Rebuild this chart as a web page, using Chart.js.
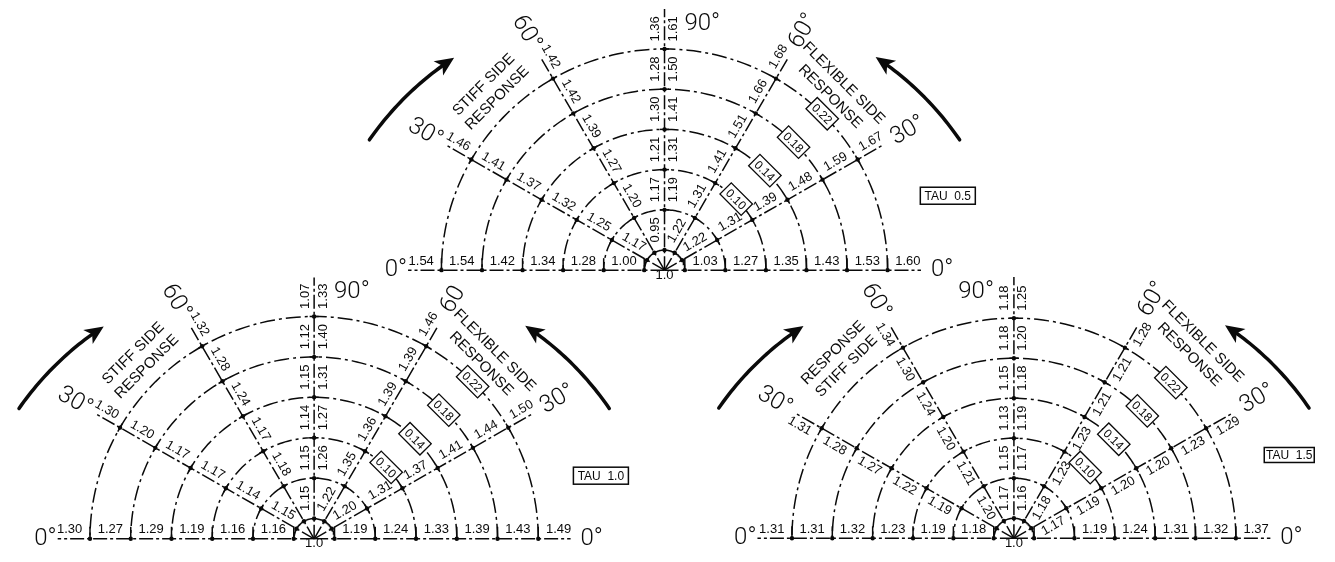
<!DOCTYPE html>
<html><head><meta charset="utf-8">
<script src="https://cdn.jsdelivr.net/npm/chart.js@4.4.1/dist/chart.umd.min.js"></script>
<style>html,body{margin:0;padding:0;background:#fff}#wrap{width:1335px;height:562px;position:relative}</style>
</head><body><div id="wrap"><canvas id="c"></canvas></div>
<script>
// ---------- DATA (values read from the centre outward, positions 1..6) ----------
const directions = ['STIFF 0°','STIFF 30°','STIFF 60°','STIFF 90°','FLEX 90°','FLEX 60°','FLEX 30°','FLEX 0°'];
const dirAngles = [180,150,120,90,90,60,30,0];
const tauLabels = ['TAU 0.5','TAU 1.0','TAU 1.5'];
const ringLabels = [null,null,'0.10','0.14','0.18','0.22'];

const tau05 = [
  [1.00,1.28,1.34,1.42,1.54,1.54],
  [1.17,1.25,1.32,1.37,1.41,1.46],
  [null,1.20,1.27,1.39,1.42,1.42],
  [0.95,1.17,1.21,1.30,1.28,1.36],
  [null,1.19,1.31,1.41,1.50,1.61],
  [1.22,1.31,1.41,1.51,1.66,1.68],
  [1.22,1.31,1.39,1.48,1.59,1.67],
  [1.03,1.27,1.35,1.43,1.53,1.60]
];
const tau10 = [
  [1.16,1.16,1.19,1.29,1.27,1.30],
  [1.15,1.14,1.17,1.17,1.20,1.30],
  [null,1.18,1.17,1.24,1.28,1.32],
  [1.15,1.15,1.14,1.15,1.12,1.07],
  [null,1.26,1.27,1.31,1.40,1.33],
  [1.22,1.35,1.36,1.39,1.39,1.46],
  [1.20,1.31,1.37,1.41,1.44,1.50],
  [1.19,1.24,1.33,1.39,1.43,1.49]
];
const tau15 = [
  [1.18,1.19,1.23,1.32,1.31,1.31],
  [null,1.19,1.22,1.27,1.28,1.31],
  [1.20,1.21,1.20,1.24,1.30,1.34],
  [1.17,1.15,1.13,1.15,1.18,1.18],
  [1.16,1.17,1.19,1.18,1.20,1.25],
  [1.18,1.23,1.23,1.21,1.21,1.28],
  [1.17,1.19,1.20,1.20,1.23,1.29],
  [null,1.19,1.24,1.31,1.32,1.37]
];

// ---------- LAYOUT ----------
const DEG = Math.PI/180;
const INK = '#0a0a0a';
const diagrams = [
  {values:tau05, tau:tauLabels[0], cx:664.5, cy:270, step:40.8, side:-1, stiffTitle:['STIFF SIDE','RESPONSE'], ninety:1, flex60:'60°', box:[949.5,194.5,55,17], flexTitleR:252},
  {values:tau10, tau:tauLabels[1], cx:312, cy:542.5, step:41.0, side:-1, stiffTitle:['STIFF SIDE','RESPONSE'], ninety:1, flex60:'60', box:[600.5,478.5,55,17], flexTitleR:254},
  {values:tau15, tau:tauLabels[2], cx:1016, cy:542, step:40.6, side:1, stiffTitle:['RESPONSE','STIFF SIDE'], ninety:-1, flex60:'60°', box:[1293,457.5,50,15], flexTitleR:266}
];
const radialLen = {0:258,30:254,60:250,90:265,120:250,150:254,180:258};

const datasets = [];
diagrams.forEach(d => {
  for (let k=1;k<=6;k++){
    const r=(k-0.5)*d.step, pts=[];
    for (let a=0;a<=180.001;a+=1.5) pts.push({x:d.cx+r*Math.cos(a*DEG), y:d.cy-r*Math.sin(a*DEG)});
    datasets.push({type:'line', data:pts, borderColor:INK, borderWidth:1.5, borderDash:k===1?[]:[15,4,3,4], pointRadius:0, fill:false, tension:0, clip:false});
  }
  [0,30,60,90,120,150,180].forEach(a=>{
    const L=radialLen[a];
    datasets.push({type:'line', data:[{x:d.cx,y:d.cy},{x:d.cx+L*Math.cos(a*DEG),y:d.cy-L*Math.sin(a*DEG)}],
      borderColor:INK, borderWidth:1.5, borderDash:[14,3,3,3], pointRadius:0, fill:false, clip:false});
  });
  const dots=[];
  for (let k=1;k<=6;k++){ const r=(k-0.5)*d.step;
    [0,30,60,90,120,150,180].forEach(a=>dots.push({x:d.cx+r*Math.cos(a*DEG), y:d.cy-r*Math.sin(a*DEG)})); }
  datasets.push({type:'scatter', data:dots, pointRadius:2.2, pointBackgroundColor:INK, pointBorderWidth:0, clip:false});
});

const VFONT = '13px "Liberation Sans", Arial, sans-serif';
function rtext(ctx,s,x,y,rot,side,font,gap){
  ctx.save(); ctx.translate(x,y); ctx.rotate(rot*DEG);
  ctx.font=font; ctx.fillStyle=INK; ctx.textAlign='center';
  ctx.textBaseline = side<0?'bottom':(side>0?'top':'middle');
  ctx.fillText(s,0,side*gap); ctx.restore();
}
function drawTwo(ctx,x,y,rot,lines,font){
  ctx.save(); ctx.translate(x,y); ctx.rotate(rot*DEG); ctx.font=font; ctx.fillStyle=INK;
  ctx.textAlign='center'; ctx.textBaseline='middle';
  ctx.fillText(lines[0],0,-9.5); ctx.fillText(lines[1],0,9.5); ctx.restore();
}
function arrow(ctx,d,polar,r0,a0,r1,a1){
  const n=30, pts=[];
  for(let i=0;i<=n;i++){const t=i/n; pts.push(polar(d,r0+(r1-r0)*t,a0+(a1-a0)*t));}
  const [hx,hy]=pts[n], [px,py]=pts[n-3];
  const L=Math.hypot(hx-px,hy-py), ux=(hx-px)/L, uy=(hy-py)/L;
  ctx.save(); ctx.setLineDash([]); ctx.lineWidth=3.5; ctx.lineCap='round'; ctx.fillStyle=INK; ctx.strokeStyle=INK;
  ctx.beginPath(); ctx.moveTo(pts[0][0],pts[0][1]);
  for(let i=1;i<n-3;i++) ctx.lineTo(pts[i][0],pts[i][1]);
  ctx.lineTo(hx-ux*12,hy-uy*12); ctx.stroke();
  ctx.beginPath(); ctx.moveTo(hx,hy);
  ctx.lineTo(hx-ux*19-uy*8.5, hy-uy*19+ux*8.5);
  ctx.lineTo(hx-ux*14, hy-uy*14);
  ctx.lineTo(hx-ux*19+uy*8.5, hy-uy*19-ux*8.5);
  ctx.closePath(); ctx.fill(); ctx.restore();
}

const annot = {
  id:'annot',
  afterDatasetsDraw(chart){
    const ctx=chart.ctx, xs=chart.scales.x, ys=chart.scales.y;
    const P=(x,y)=>[xs.getPixelForValue(x), ys.getPixelForValue(y)];
    const polar=(d,r,a)=>P(d.cx+r*Math.cos(a*DEG), d.cy-r*Math.sin(a*DEG));
    ctx.save();
    ctx.strokeStyle=INK; ctx.fillStyle=INK;
    diagrams.forEach(d=>{
      // ticks at ring crossings
      ctx.lineWidth=1.5; ctx.setLineDash([]);
      for (let k=1;k<=6;k++){
        const r=(k-0.5)*d.step;
        [0,180].forEach(a=>{const [x,y]=polar(d,r,a); ctx.beginPath(); ctx.moveTo(x,y); ctx.lineTo(x,y-12); ctx.stroke();});
        if (k===1) continue;
        [30,60,90,120,150].forEach(a=>{
          const [x,y]=polar(d,r,a); const tx=Math.sin(a*DEG)*4.5, ty=Math.cos(a*DEG)*4.5;
          ctx.beginPath(); ctx.moveTo(x-tx,y-ty); ctx.lineTo(x+tx,y+ty); ctx.stroke();
        });
      }
      // value labels
      d.values.forEach((row,j)=>{
        const a=dirAngles[j]; let rot, side;
        if (j===0||j===7){rot=0; side=-1;}
        else if (j===3){rot=-90; side=-1;}
        else if (j===4){rot=-90; side=1;}
        else if (j<3){rot=180-a; side=d.side;}
        else {rot=-a; side=d.side;}
        row.forEach((v,i)=>{
          if (v==null) return;
          const [px,py]=polar(d,(i+1)*d.step,a);
          rtext(ctx, v.toFixed(2), px, py, rot, side, VFONT, 2.5);
        });
      });
      // centre label
      const [ox,oy]=P(d.cx,d.cy);
      ctx.fillStyle='#fff'; ctx.fillRect(ox-8,oy+1,16,9); ctx.fillStyle=INK;
      rtext(ctx,'1.0',ox,oy+5,0,0,VFONT,0);
      // ring (period) boxes
      ringLabels.forEach((t,k)=>{
        if(!t) return;
        const r=(k+0.5)*d.step; const [x,y]=polar(d,r,45);
        ctx.save(); ctx.translate(x,y); ctx.rotate(45*DEG);
        ctx.fillStyle='#fff'; ctx.fillRect(-15,-8,30,16);
        ctx.lineWidth=1.3; ctx.strokeStyle=INK; ctx.strokeRect(-15,-8,30,16);
        ctx.fillStyle=INK; ctx.font='12px "Liberation Sans", Arial, sans-serif';
        ctx.textAlign='center'; ctx.textBaseline='middle'; ctx.fillText(t,0,1);
        ctx.restore();
      });
      // angle labels
      const AF='300 24px Roboto, "DejaVu Sans", sans-serif';
      ctx.font=AF; ctx.textBaseline='middle'; ctx.fillStyle=INK;
      let [x,y]=P(d.cx-259,d.cy); ctx.textAlign='right'; ctx.fillText('0°',x,y);
      [x,y]=P(d.cx+268,d.cy); ctx.textAlign='left'; ctx.fillText('0°',x,y);
      [x,y]=polar(d,278,150); rtext(ctx,'30°',x,y,30,0,AF,0);
      [x,y]=polar(d,278,120); rtext(ctx,'60°',x,y,60,0,AF,0);
      [x,y]=polar(d,280,60); rtext(ctx,d.flex60,x,y,-60,0,AF,0);
      [x,y]=polar(d,283,30); rtext(ctx,'30°',x,y,-30,0,AF,0);
      [x,y]=P(d.cx+d.ninety*38,d.cy-250); rtext(ctx,'90°',x,y,0,0,AF,0);
      // titles
      const TF='15px "Liberation Sans", Arial, sans-serif';
      [x,y]=polar(d,252,134);
      drawTwo(ctx,x,y,-45,d.stiffTitle,TF);
      [x,y]=polar(d,d.flexTitleR,46.5);
      drawTwo(ctx,x,y,45,['FLEXIBLE SIDE','RESPONSE'],TF);
      // arrows
      arrow(ctx,d,polar,325,156,302,134.5);
      arrow(ctx,d,polar,325,24,303,45.5);
      // tau box
      const [bx,by]=P(d.box[0],d.box[1]);
      ctx.lineWidth=1.5; ctx.strokeStyle=INK; ctx.strokeRect(bx-d.box[2]/2,by-d.box[3]/2,d.box[2],d.box[3]);
      ctx.font='12px "Liberation Sans", Arial, sans-serif'; ctx.textAlign='center'; ctx.textBaseline='middle'; ctx.fillStyle=INK;
      ctx.fillText(d.tau.replace(' ','  '),bx,by+1);
    });
    ctx.restore();
  }
};

new Chart(document.getElementById('c'),{
  type:'scatter',
  data:{datasets},
  options:{
    responsive:true, maintainAspectRatio:false, animation:false,
    layout:{padding:0},
    plugins:{legend:{display:false}, tooltip:{enabled:false}},
    scales:{
      x:{type:'linear', min:0, max:1335, display:false},
      y:{type:'linear', min:0, max:562, reverse:true, display:false}
    }
  },
  plugins:[annot]
});
</script></body></html>
